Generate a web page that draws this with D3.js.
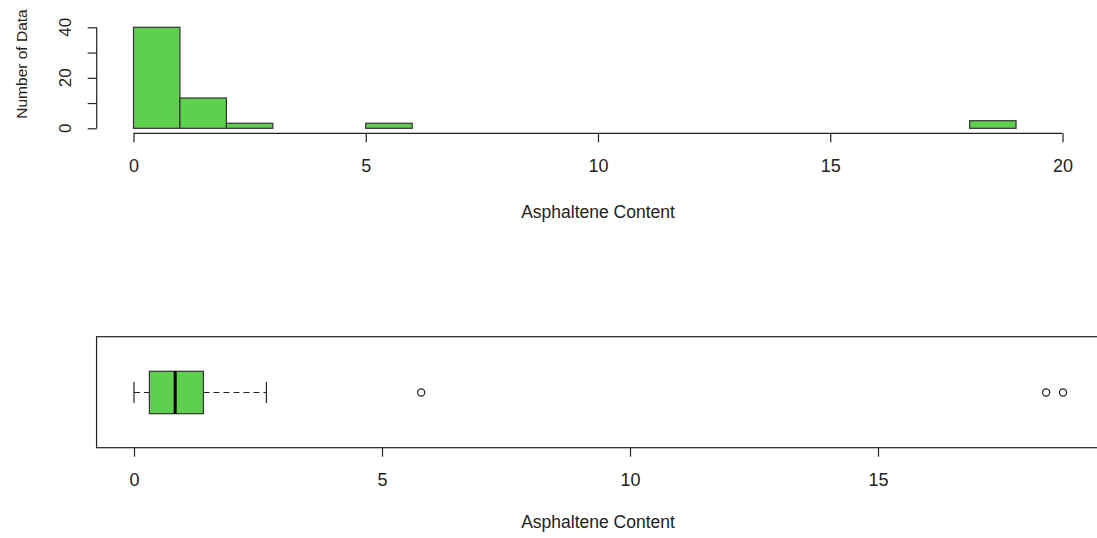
<!DOCTYPE html>
<html>
<head>
<meta charset="utf-8">
<script src="https://cdn.jsdelivr.net/npm/d3@7"></script>
<style>
  body { margin: 0; background: #fff; }
  svg { display: block; }
  text { font-family: "Liberation Sans", Arial, sans-serif; fill: #222; }
</style>
</head>
<body>
<div id="chart"></div>
<script>
// histogram: breaks of width 1, counts per bin
const breaks = d3.range(0, 20);          // 0..19
const counts = [40, 12, 2, 0, 0, 2, 0, 0, 0, 0, 0, 0, 0, 0, 0, 0, 0, 0, 3];
const histXTicks = [0, 5, 10, 15, 20];
const histYTicks = [0, 10, 20, 30, 40];
const histYLabels = [0, 20, 40];

// boxplot five numbers + outliers
const boxStats = [0, 0.31, 0.83, 1.40, 2.67];   // lo whisker, q1, median, q3, hi whisker
const outliers = [5.79, 18.39, 18.73];
const boxXTicks = [0, 5, 10, 15];

const W = 1097, H = 538;
const green = '#5fcf4f';

const svg = d3.select('#chart').append('svg')
  .attr('width', W).attr('height', H);

// ---------- histogram ----------
const hx = d3.scaleLinear().domain([0, 20]).range([133.5, 1062.5]);
const hy = d3.scaleLinear().domain([0, 40]).range([128.3, 27.3]);

const bins = breaks.slice(0, -1).map((b, i) => ({x0: b, x1: breaks[i + 1], n: counts[i]}));

svg.append('g').selectAll('rect')
  .data(bins)
  .join('rect')
  .attr('x', d => hx(d.x0))
  .attr('y', d => hy(d.n))
  .attr('width', d => hx(d.x1) - hx(d.x0))
  .attr('height', d => hy(0) - hy(d.n))
  .attr('fill', green)
  .attr('stroke', '#333')
  .attr('stroke-width', 1.2);

// x axis (R style: line from first to last tick, ticks down)
const hxAxis = svg.append('g')
  .attr('transform', 'translate(0,133.3)')
  .call(d3.axisBottom(hx).tickValues(histXTicks).tickSize(9).tickPadding(17).tickSizeOuter(0));
hxAxis.select('.domain').attr('d', `M${hx(0)},0H${hx(20)}`).attr('stroke', '#222').attr('stroke-width', 1.2);
hxAxis.selectAll('.tick line').attr('stroke', '#222').attr('stroke-width', 1.2);
hxAxis.selectAll('text').style('font-size', '18px').attr('fill', '#222');

const hyAxis = svg.append('g')
  .attr('transform', 'translate(96.7,0)')
  .call(d3.axisLeft(hy).tickValues(histYTicks).tickSize(9).tickFormat(''));
hyAxis.select('.domain').attr('d', `M0,${hy(0)}V${hy(40)}`).attr('stroke', '#222').attr('stroke-width', 1.2);
hyAxis.selectAll('.tick line').attr('stroke', '#222').attr('stroke-width', 1.2);

svg.append('g').selectAll('text')
  .data(histYLabels)
  .join('text')
  .attr('transform', d => `translate(71,${hy(d)}) rotate(-90)`)
  .attr('text-anchor', 'middle')
  .style('font-size', '17px')
  .text(d => d);

svg.append('text')
  .attr('transform', `translate(27,${(10 + 118) / 2}) rotate(-90)`)
  .attr('text-anchor', 'middle')
  .style('font-size', '15.5px')
  .text('Number of Data');

svg.append('text')
  .attr('x', 598).attr('y', 218)
  .attr('text-anchor', 'middle')
  .style('font-size', '17.5px')
  .text('Asphaltene Content');

// ---------- boxplot ----------
const bx = d3.scaleLinear().domain([0, 15]).range([134, 878]);
const frameTop = 336.7, frameBot = 447.7;
const cy = 392.5, boxHalf = 21.2, capHalf = 10.6;

svg.append('rect')
  .attr('x', bx(-0.755)).attr('y', frameTop)
  .attr('width', bx(19.5) - bx(-0.755)).attr('height', frameBot - frameTop)
  .attr('fill', 'none').attr('stroke', '#222').attr('stroke-width', 1.2);

const bg = svg.append('g');
// whiskers
bg.selectAll('line.wh')
  .data([[boxStats[0], boxStats[1]], [boxStats[3], boxStats[4]]])
  .join('line')
  .attr('x1', d => bx(d[0])).attr('x2', d => bx(d[1]))
  .attr('y1', cy).attr('y2', cy)
  .attr('stroke', '#222').attr('stroke-width', 1.2).attr('stroke-dasharray', '6,4');
bg.selectAll('line.cap')
  .data([boxStats[0], boxStats[4]])
  .join('line')
  .attr('x1', d => bx(d)).attr('x2', d => bx(d))
  .attr('y1', cy - capHalf).attr('y2', cy + capHalf)
  .attr('stroke', '#222').attr('stroke-width', 1.2);
bg.append('rect')
  .attr('x', bx(boxStats[1])).attr('y', cy - boxHalf)
  .attr('width', bx(boxStats[3]) - bx(boxStats[1])).attr('height', 2 * boxHalf)
  .attr('fill', green).attr('stroke', '#333').attr('stroke-width', 1.2);
bg.append('line')
  .attr('x1', bx(boxStats[2])).attr('x2', bx(boxStats[2]))
  .attr('y1', cy - boxHalf).attr('y2', cy + boxHalf)
  .attr('stroke', '#000').attr('stroke-width', 3);
bg.selectAll('circle')
  .data(outliers)
  .join('circle')
  .attr('cx', d => bx(d)).attr('cy', cy).attr('r', 3.6)
  .attr('fill', 'none').attr('stroke', '#222').attr('stroke-width', 1.2);

const bxAxis = svg.append('g')
  .attr('transform', `translate(0,${frameBot})`)
  .call(d3.axisBottom(bx).tickValues(boxXTicks).tickSize(9).tickPadding(17).tickSizeOuter(0));
bxAxis.select('.domain').remove();
bxAxis.selectAll('.tick line').attr('stroke', '#222').attr('stroke-width', 1.2);
bxAxis.selectAll('text').style('font-size', '18px').attr('fill', '#222');

svg.append('text')
  .attr('x', 598).attr('y', 528)
  .attr('text-anchor', 'middle')
  .style('font-size', '17.5px')
  .text('Asphaltene Content');
</script>
</body>
</html>
